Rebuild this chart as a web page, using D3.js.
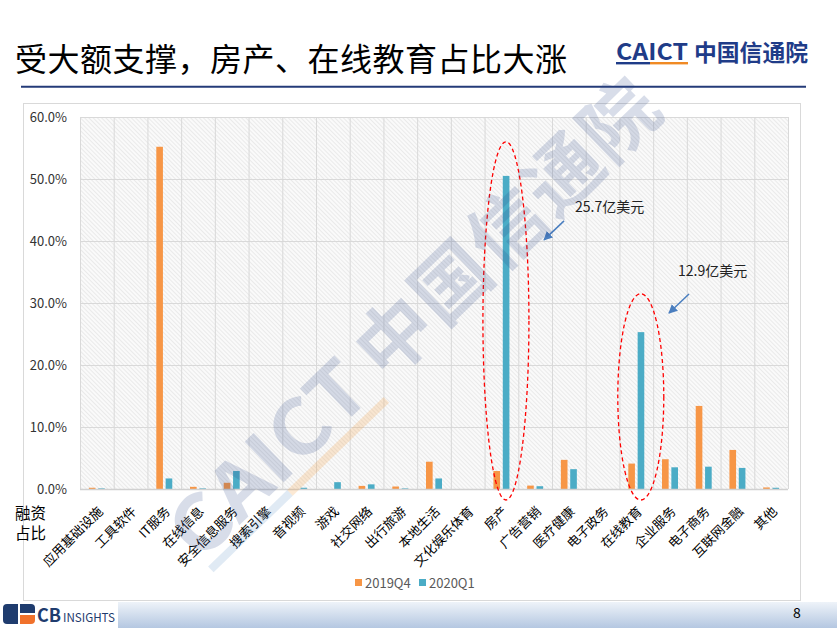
<!DOCTYPE html>
<html><head><meta charset="utf-8">
<script src="https://cdn.jsdelivr.net/npm/d3@7/dist/d3.min.js"></script>
<style>
html,body{margin:0;padding:0;background:#fff;}
svg{display:block;}
text{font-family:"Noto Sans CJK SC","Noto Sans",sans-serif;}
</style></head>
<body>
<script>
// ---------- data ----------
const categories = ["应用基础设施","工具软件","IT服务","在线信息","安全信息服务","搜索引擎","音视频","游戏","社交网络","出行旅游","本地生活","文化娱乐体育","房产","广告营销","医疗健康","电子政务","在线教育","企业服务","电子商务","互联网金融","其他"];
const seriesNames = ["2019Q4","2020Q1"];
const values2019Q4 = [0.002,0,0.552,0.0035,0.010,0,0,0,0.005,0.004,0.044,0,0.029,0.0055,0.047,0,0.041,0.048,0.134,0.063,0.0025];
const values2020Q1 = [0.001,0,0.017,0.001,0.029,0,0.002,0.011,0.0075,0.001,0.017,0,0.505,0.0045,0.032,0,0.253,0.035,0.036,0.034,0.002];
const yTicks = [0,0.1,0.2,0.3,0.4,0.5,0.6];
const highlightCats = ["房产","在线教育"];
const highlightTop = [0.56,0.315];
const noteLabels = ["25.7亿美元","12.9亿美元"];
const noteLevels = [0.447,0.3435];

const W=837,H=628;
const svg=d3.select("body").append("svg").attr("width",W).attr("height",H);
const defs=svg.append("defs");
const pat=defs.append("pattern").attr("id","hatch").attr("patternUnits","userSpaceOnUse")
  .attr("width",3).attr("height",3).attr("patternTransform","rotate(-45)");
pat.append("rect").attr("width",3).attr("height",3).attr("fill","#fafafa");
pat.append("line").attr("x1",0).attr("y1",0).attr("x2",0).attr("y2",3).attr("stroke","#dadada").attr("stroke-width",1);
const grad=defs.append("linearGradient").attr("id","foot").attr("x1",0).attr("y1",0).attr("x2",0).attr("y2",1);
grad.append("stop").attr("offset","0%").attr("stop-color","#eef3f9");
grad.append("stop").attr("offset","100%").attr("stop-color","#b4c7e1");
defs.append("marker").attr("id","arr").attr("viewBox","0 0 10 10").attr("refX",9).attr("refY",5)
  .attr("markerWidth",6).attr("markerHeight",6).attr("orient","auto")
  .append("path").attr("d","M0,0 L10,5 L0,10 z").attr("fill","#4a7ebf");

// ---------- header ----------
svg.append("text").attr("x",15).attr("y",71).attr("font-size",32).attr("fill","#000")
  .attr("textLength",552).attr("lengthAdjust","spacing")
  .text("受大额支撑，房产、在线教育占比大涨");
svg.append("line").attr("x1",21).attr("x2",806).attr("y1",86.7).attr("y2",86.7)
  .attr("stroke","#243b78").attr("stroke-width",2);
svg.append("text").attr("x",616).attr("y",60).attr("font-size",23).attr("font-weight","bold")
  .attr("font-family","Liberation Sans, sans-serif").attr("fill","#1f3c88")
  .attr("textLength",72).attr("lengthAdjust","spacingAndGlyphs").text("CAICT");
svg.append("rect").attr("x",616).attr("y",62).attr("width",34).attr("height",2.4).attr("fill","#1f3c88");
svg.append("rect").attr("x",650).attr("y",62).attr("width",38).attr("height",2.4).attr("fill","#f08a24");
svg.append("text").attr("x",694).attr("y",61).attr("font-size",23).attr("font-weight","bold")
  .attr("fill","#1f3c88").attr("textLength",114).attr("lengthAdjust","spacingAndGlyphs").text("中国信通院");

// ---------- chart area ----------
svg.append("rect").attr("x",23.5).attr("y",103.5).attr("width",777).attr("height",497)
  .attr("fill","#fff").attr("stroke","#d9d9d9");

const x0=d3.scaleBand().domain(categories).range([80,788]).paddingInner(0).paddingOuter(0);
const bw=x0.bandwidth();
const x1=d3.scaleBand().domain(seriesNames).range([bw*0.263,bw*0.737]).paddingInner(0.29).paddingOuter(0);
const y=d3.scaleLinear().domain([0,0.6]).range([489,117]);
const colors=d3.scaleOrdinal().domain(seriesNames).range(["#f79646","#4bacc6"]);

svg.append("rect").attr("x",80).attr("y",117).attr("width",708).attr("height",372).attr("fill","url(#hatch)");
svg.append("g").selectAll("line").data(yTicks).join("line")
  .attr("x1",80).attr("x2",788).attr("y1",d=>y(d)+0.5).attr("y2",d=>y(d)+0.5)
  .attr("stroke","#d9d9d9").attr("stroke-width",1);
const bounds=categories.map(c=>x0(c)).concat([788]);
svg.append("g").selectAll("line").data(bounds).join("line")
  .attr("x1",d=>d+0.5).attr("x2",d=>d+0.5).attr("y1",117).attr("y2",489)
  .attr("stroke","#d9d9d9").attr("stroke-width",1);

const yAxis=d3.axisLeft(y).tickValues(yTicks).tickFormat(d3.format(".1%")).tickSize(0).tickPadding(0);
const gy=svg.append("g").attr("transform","translate(67,0)").call(yAxis);
gy.select(".domain").remove();
gy.selectAll("text").attr("font-size",13).attr("fill","#333").attr("font-family","Noto Sans CJK SC, sans-serif");

const rows=categories.map((c,i)=>({cat:c,vals:[values2019Q4[i],values2020Q1[i]]}));
const gb=svg.append("g");
rows.forEach(r=>{
  seriesNames.forEach((s,j)=>{
    const v=r.vals[j]; if(!v) return;
    gb.append("rect").attr("x",x0(r.cat)+x1(s)).attr("width",x1.bandwidth())
      .attr("y",y(v)).attr("height",y(0)-y(v)).attr("fill",colors(s));
  });
});
svg.append("line").attr("x1",80).attr("x2",788).attr("y1",489.5).attr("y2",489.5)
  .attr("stroke","#d0d0d0").attr("stroke-width",1.5);

const xAxis=d3.axisBottom(x0).tickSize(0).tickPadding(0);
const gx=svg.append("g").attr("transform","translate(0,509)").call(xAxis);
gx.select(".domain").remove();
gx.selectAll("text").attr("font-size",13).attr("fill","#000")
  .attr("font-family","Noto Sans CJK SC, sans-serif")
  .attr("text-anchor","end").attr("dy","0.35em").attr("y",0).attr("x",0)
  .attr("transform","translate(3.5,0) rotate(-45)");

// y title (one text, two lines)
const yt=svg.append("text").attr("font-size",15.5).attr("fill","#000");
yt.append("tspan").attr("x",15).attr("y",519).text("融资");
yt.append("tspan").attr("x",15).attr("y",539).text("占比");

// legend
const lg=svg.append("g");
const legX=[355,419];
seriesNames.forEach((s,i)=>{
  lg.append("rect").attr("x",legX[i]).attr("y",579).attr("width",7).attr("height",7).attr("fill",colors(s));
  lg.append("text").attr("x",legX[i]+10).attr("y",587.5).attr("font-size",13).attr("fill","#595959").text(s);
});

// highlight ellipses & notes
highlightCats.forEach((c,i)=>{
  const cx=x0(c)+bw/2+4.5;
  const top=y(highlightTop[i]), bot=y(0)+11;
  svg.append("ellipse").attr("cx",cx).attr("cy",(top+bot)/2).attr("rx",23).attr("ry",(bot-top)/2)
    .attr("fill","none").attr("stroke","#ff0000").attr("stroke-width",1.3).attr("stroke-dasharray","4,3");
});
const noteDx=[73.6,41.7];
const arrowDx=[-11,11], arrowDy=[9,18];
highlightCats.forEach((c,i)=>{
  const cx=x0(c)+bw/2;
  const ty=y(noteLevels[i]);
  svg.append("text").attr("x",cx+noteDx[i]).attr("y",ty).attr("font-size",14).attr("fill","#222").text(noteLabels[i]);
  const ax=cx+noteDx[i]+arrowDx[i], ay=ty+arrowDy[i];
  svg.append("line").attr("x1",ax).attr("y1",ay).attr("x2",ax-20).attr("y2",ay+19)
    .attr("stroke","#4a7ebf").attr("stroke-width",1.5).attr("marker-end","url(#arr)");
});

// watermark
const wm=svg.append("g").attr("transform","translate(396,335) rotate(-44)").attr("pointer-events","none");
wm.append("text").attr("x",-300).attr("y",28).attr("font-size",76).attr("font-weight","bold")
  .attr("font-family","Liberation Sans, sans-serif").attr("fill","#2e4a8c").attr("fill-opacity",0.19)
  .attr("textLength",244).attr("lengthAdjust","spacingAndGlyphs").text("CAICT");
wm.append("text").attr("x",-40).attr("y",28).attr("font-size",76).attr("font-weight","bold")
  .attr("fill","#2e4a8c").attr("fill-opacity",0.19).attr("letter-spacing",2).text("中国信通院");
wm.append("rect").attr("x",-296).attr("y",36).attr("width",110).attr("height",8).attr("fill","#2e6fb8").attr("fill-opacity",0.15);
wm.append("rect").attr("x",-186).attr("y",36).attr("width",134).attr("height",8).attr("fill","#f39a3c").attr("fill-opacity",0.22);

// footer
svg.append("rect").attr("x",118).attr("y",602).attr("width",W-118).attr("height",26).attr("fill","url(#foot)");
const lgo=svg.append("g");
lgo.append("path").attr("d","M7,604 H18 V624 H7 Q3,624 3,620 V608 Q3,604 7,604 Z").attr("fill","#1f3c6e");
lgo.append("path").attr("d","M20,604 H31 Q35,604 35,608 V613 H20 Z").attr("fill","#1f3c6e");
lgo.append("path").attr("d","M20,615 H35 V620 Q35,624 31,624 H20 Z").attr("fill","#f0712b");
lgo.append("text").attr("x",37).attr("y",622).attr("font-size",18).attr("font-weight","bold")
  .attr("font-family","Liberation Sans, sans-serif").attr("fill","#1f3c6e").text("CB");
lgo.append("text").attr("x",63).attr("y",622).attr("font-size",12)
  .attr("font-family","Liberation Sans Narrow, Liberation Sans, sans-serif").attr("fill","#1f3c6e")
  .attr("textLength",52).attr("lengthAdjust","spacingAndGlyphs").text("INSIGHTS");
svg.append("text").attr("x",797).attr("y",618).attr("font-size",14).attr("text-anchor","middle").attr("fill","#000").text("8");
</script>
</body></html>
